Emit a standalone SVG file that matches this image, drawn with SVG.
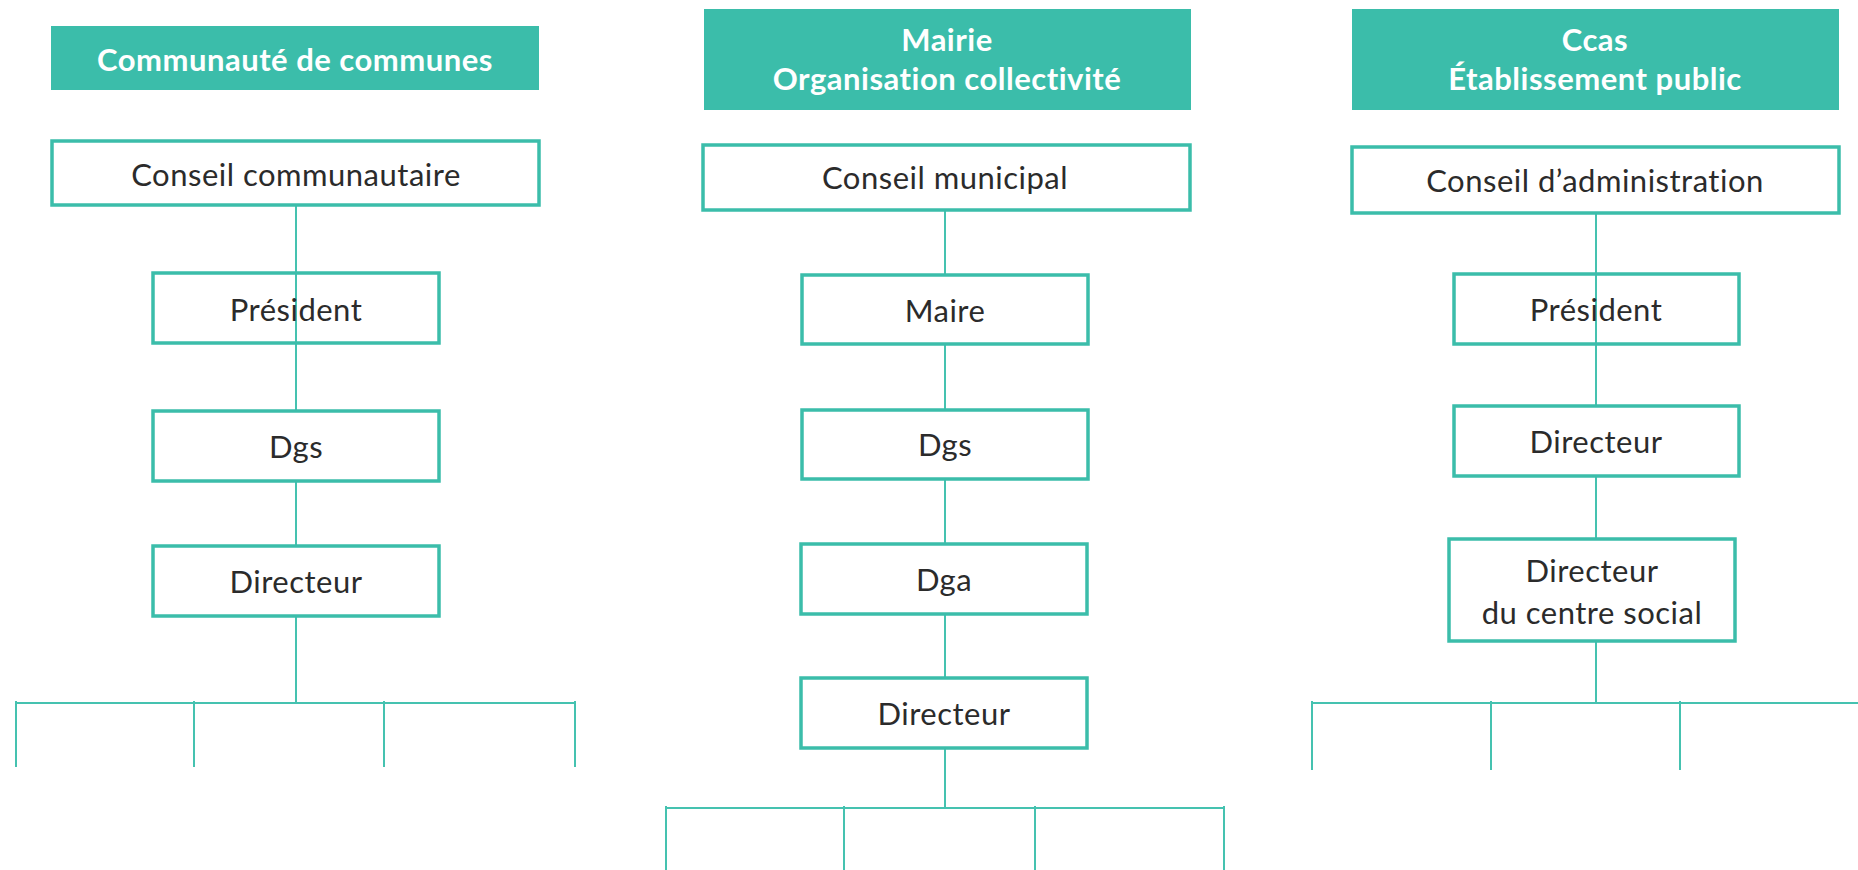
<svg xmlns="http://www.w3.org/2000/svg" width="1858" height="870" viewBox="0 0 1858 870">
  <style>
    .head rect { fill: #3bbdaa; }
    .head text { fill: #ffffff; font-family: Lato, "Liberation Sans", sans-serif; font-weight: bold; font-size: 31px; letter-spacing: 0.5px; text-anchor: middle; }
    .box rect { fill: #ffffff; stroke: #3bbdaa; stroke-width: 3.5; }
    .box text { fill: #2b2b2b; font-family: Lato, "Liberation Sans", sans-serif; font-size: 31px; letter-spacing: 0.5px; text-anchor: middle; }
    .links line { stroke: #45c2b0; stroke-width: 2; fill: none; }
  </style>
  <rect width="1858" height="870" fill="#ffffff"/>

  <!-- connectors, drawn first so the boxes sit on top except where the line crosses -->
  <g id="connectors" class="links">
    <!-- Communauté de communes -->
    <line x1="296" y1="205" x2="296" y2="411"/>
    <line x1="296" y1="481" x2="296" y2="546"/>
    <line x1="296" y1="616" x2="296" y2="703"/>
    <line x1="16" y1="703" x2="575" y2="703"/>
    <line x1="16" y1="701" x2="16" y2="767"/>
    <line x1="194" y1="701" x2="194" y2="767"/>
    <line x1="384" y1="701" x2="384" y2="767"/>
    <line x1="575" y1="701" x2="575" y2="767"/>
    <!-- Mairie -->
    <line x1="945" y1="210" x2="945" y2="275"/>
    <line x1="945" y1="344" x2="945" y2="410"/>
    <line x1="945" y1="479" x2="945" y2="544"/>
    <line x1="945" y1="614" x2="945" y2="678"/>
    <line x1="945" y1="748" x2="945" y2="808"/>
    <line x1="666" y1="808" x2="1224" y2="808"/>
    <line x1="666" y1="806" x2="666" y2="870"/>
    <line x1="844" y1="806" x2="844" y2="870"/>
    <line x1="1035" y1="806" x2="1035" y2="870"/>
    <line x1="1224" y1="806" x2="1224" y2="870"/>
    <!-- Ccas -->
    <line x1="1596" y1="213" x2="1596" y2="406"/>
    <line x1="1596" y1="476" x2="1596" y2="539"/>
    <line x1="1596" y1="641" x2="1596" y2="703"/>
    <line x1="1312" y1="703" x2="1858" y2="703"/>
    <line x1="1312" y1="701" x2="1312" y2="770"/>
    <line x1="1491" y1="701" x2="1491" y2="770"/>
    <line x1="1680" y1="701" x2="1680" y2="770"/>
  </g>

  <!-- Communauté de communes column -->
  <g id="head-communaute" class="head">
    <rect x="51" y="26" width="488" height="64"/>
    <text x="295" y="71">Communauté de communes</text>
  </g>
  <g id="conseil-communautaire" class="box">
    <rect x="52" y="141" width="487" height="64"/>
    <text x="296" y="186">Conseil communautaire</text>
  </g>
  <g id="president-cc" class="box">
    <rect x="153" y="273" width="286" height="70" fill-opacity="0"/>
    <text x="296" y="321">Président</text>
  </g>
  <g id="dgs-cc" class="box">
    <rect x="153" y="411" width="286" height="70"/>
    <text x="296" y="458">Dgs</text>
  </g>
  <g id="directeur-cc" class="box">
    <rect x="153" y="546" width="286" height="70"/>
    <text x="296" y="593">Directeur</text>
  </g>

  <!-- Mairie column -->
  <g id="head-mairie" class="head">
    <rect x="704" y="9" width="487" height="101"/>
    <text x="947" y="51">Mairie</text>
    <text x="947" y="90">Organisation collectivité</text>
  </g>
  <g id="conseil-municipal" class="box">
    <rect x="703" y="145" width="487" height="65"/>
    <text x="945" y="189">Conseil municipal</text>
  </g>
  <g id="maire" class="box">
    <rect x="802" y="275" width="286" height="69"/>
    <text x="945" y="322">Maire</text>
  </g>
  <g id="dgs-mairie" class="box">
    <rect x="802" y="410" width="286" height="69"/>
    <text x="945" y="456">Dgs</text>
  </g>
  <g id="dga" class="box">
    <rect x="801" y="544" width="286" height="70"/>
    <text x="944" y="591">Dga</text>
  </g>
  <g id="directeur-mairie" class="box">
    <rect x="801" y="678" width="286" height="70"/>
    <text x="944" y="725">Directeur</text>
  </g>

  <!-- Ccas column -->
  <g id="head-ccas" class="head">
    <rect x="1352" y="9" width="487" height="101"/>
    <text x="1595" y="51">Ccas</text>
    <text x="1595" y="90">Établissement public</text>
  </g>
  <g id="conseil-administration" class="box">
    <rect x="1352" y="147" width="487" height="66"/>
    <text x="1595" y="192">Conseil d’administration</text>
  </g>
  <g id="president-ccas" class="box">
    <rect x="1454" y="274" width="285" height="70" fill-opacity="0"/>
    <text x="1596" y="321">Président</text>
  </g>
  <g id="directeur-ccas" class="box">
    <rect x="1454" y="406" width="285" height="70"/>
    <text x="1596" y="453">Directeur</text>
  </g>
  <g id="directeur-centre-social" class="box">
    <rect x="1449" y="539" width="286" height="102"/>
    <text x="1592" y="582">Directeur</text>
    <text x="1592" y="624">du centre social</text>
  </g>
</svg>
